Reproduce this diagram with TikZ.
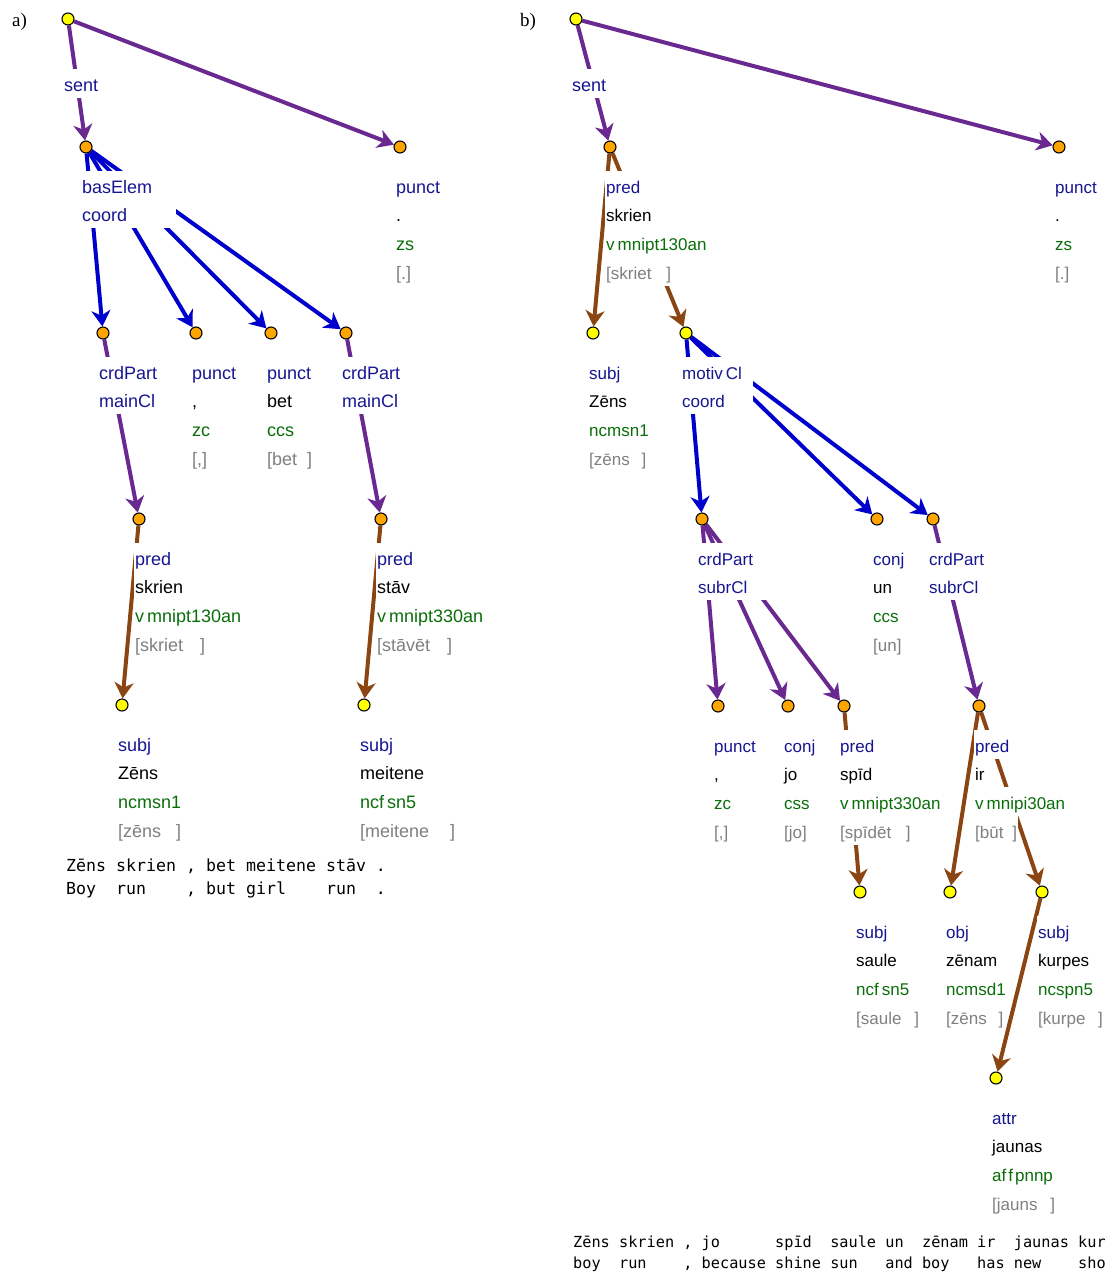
\documentclass[tikz,border=0pt]{standalone}
\usepackage{fontspec}
\setmainfont{Liberation Sans}
\newfontfamily\serifface{Liberation Serif}
\newfontfamily\glossface{DejaVu Sans Mono}
\usetikzlibrary{arrows.meta}

\pgfdeclarelayer{edges}
\pgfsetlayers{edges,main}

\definecolor{rolecol}{RGB}{22,22,145}
\definecolor{tagcol}{RGB}{10,110,10}
\definecolor{lemcol}{RGB}{128,128,128}
\definecolor{depcol}{RGB}{106,40,145}
\definecolor{crdcol}{RGB}{0,0,205}
\definecolor{predcol}{RGB}{139,69,19}
\definecolor{leafcol}{RGB}{255,255,0}
\definecolor{innercol}{RGB}{255,165,0}

\def\rowfont{\fontsize{18}{20}\selectfont}

\tikzset{
  vert/.style={circle, draw=black, line width=1.1pt, minimum size=12pt, inner sep=0pt},
  leaf/.style={vert, fill=leafcol},
  inner/.style={vert, fill=innercol},
  row/.style={anchor=base west, fill=white, font=\rowfont, inner xsep=1pt,
    inner ysep=2.5pt, text height=20pt, text depth=4pt},
  gloss/.style={anchor=base west, inner sep=0pt},
  link/.style={line width=4pt, -{Stealth[length=16pt,width=19pt,inset=5pt]}},
  dep/.style={link, draw=depcol, fill=depcol},
  crd/.style={link, draw=crdcol, fill=crdcol},
  prd/.style={link, draw=predcol, fill=predcol},
}

% word vertex: name, circle style, x, y, role, form, tag, lemma
\newcommand\wordblock[8]{%
  \node[#2] (#1) at (#3,#4) {};
  \node[row, text=rolecol] (#1-role) at ({#3-5},{#4+46}) {#5};
  \node[row, text=black] (#1-form) at ({#3-5},{#4+74.7}) {#6};
  \node[row, text=tagcol] (#1-tag) at ({#3-5},{#4+103.4}) {#7};
  \node[row, text=lemcol] (#1-lemma) at ({#3-5},{#4+132}) {#8};
}
% structural vertex: name, circle style, x, y, role, kind, box width
\newcommand\crdblock[7]{%
  \node[#2] (#1) at (#3,#4) {};
  \node[row, text=rolecol] (#1-role) at ({#3-5},{#4+46}) {\makebox[#7][l]{#5}};
  \node[row, text=rolecol] (#1-kind) at ({#3-5},{#4+74.7}) {\makebox[#7][l]{#6}};
}

\begin{document}
\begin{tikzpicture}[x=1pt,y=-1pt]
\useasboundingbox (0,0) rectangle (1104,1272);
\clip (0,0) rectangle (1104,1272);

% ---------- tree a ----------
\node[gloss, font=\serifface\fontsize{19}{20}\selectfont] (a-tag) at (12,26) {a)};
\node[leaf] (A0) at (68,19) {};
\node[row, text=rolecol] (A-sent) at (63,91) {sent};
\crdblock{A1}{inner}{86}{147}{basElem}{coord}{93pt}
\wordblock{A2}{inner}{400}{147}{punct}{.}{zs}{[.]}
\crdblock{A3}{inner}{103}{333}{crdPart}{mainCl}{60pt}
\wordblock{A4}{inner}{196}{333}{punct}{,}{zc}{[,]}
\wordblock{A5}{inner}{271}{333}{punct}{bet}{ccs}{[bet \kern5pt]}
\crdblock{A6}{inner}{346}{333}{crdPart}{mainCl}{60pt}
\wordblock{A7}{inner}{139}{519}{pred}{skrien}{v\kern3pt mnipt130an}{[skriet \kern12pt]}
\wordblock{A8}{inner}{381}{519}{pred}{stāv}{v\kern3pt mnipt330an}{[stāvēt \kern12pt]}
\wordblock{A9}{leaf}{122}{705}{subj}{Zēns}{ncmsn1}{[zēns \kern10pt]}
\wordblock{A10}{leaf}{364}{705}{subj}{meitene}{ncf\kern3pt sn5}{[meitene \kern16pt]}

\begin{scope}[font=\glossface\fontsize{16.6}{20}\selectfont]
  \node[gloss] (A-src) at (66,871) {Zēns~skrien~,~bet~meitene~stāv~.};
  \node[gloss] (A-eng) at (66,894) {Boy~~run~~~~,~but~girl~~~~run~~.};
\end{scope}

% ---------- tree b ----------
\node[gloss, font=\serifface\fontsize{19}{20}\selectfont] (b-tag) at (520,26) {b)};
\node[leaf] (B0) at (576,19) {};
\node[row, text=rolecol] (B-sent) at (571,91) {sent};
\begin{scope}
\def\rowfont{\fontsize{17}{20}\selectfont}
\wordblock{B1}{inner}{610}{147}{pred}{skrien}{v\kern3pt mnipt130an}{[skriet \kern10pt]}
\wordblock{B2}{inner}{1059}{147}{punct}{.}{zs}{[.]}
\wordblock{B3}{leaf}{593}{333}{subj}{Zēns}{ncmsn1}{[zēns \kern7pt]}
\crdblock{B4}{leaf}{686}{333}{motiv\kern3pt Cl}{coord}{70pt}
\crdblock{B5}{inner}{702}{519}{crdPart}{subrCl}{68pt}
\wordblock{B6}{inner}{877}{519}{conj}{un}{ccs}{[un]}
\crdblock{B7}{inner}{933}{519}{crdPart}{subrCl}{58pt}
\wordblock{B8}{inner}{718}{706}{punct}{,}{zc}{[,]}
\wordblock{B9}{inner}{788}{706}{conj}{jo}{css}{[jo]}
\wordblock{B10}{inner}{844}{706}{pred}{spīd}{v\kern3pt mnipt330an}{[spīdēt \kern10pt]}
\wordblock{B11}{inner}{979}{706}{pred}{ir}{v\kern3pt mnipi30an}{[būt \kern4pt]}
\wordblock{B12}{leaf}{860}{892}{subj}{saule}{ncf\kern3pt sn5}{[saule \kern8pt]}
\wordblock{B13}{leaf}{950}{892}{obj}{zēnam}{ncmsd1}{[zēns \kern7pt]}
\wordblock{B14}{leaf}{1042}{892}{subj}{kurpes}{ncspn5}{[kurpe \kern8pt]}
\wordblock{B15}{leaf}{996}{1078}{attr}{jaunas}{af\kern2pt f\kern2pt pnnp}{[jauns \kern8pt]}
\end{scope}

\begin{scope}[font=\glossface\fontsize{15.25}{20}\selectfont]
  \node[gloss] (B-src) at (573,1247) {Zēns~skrien~,~jo~~~~~~spīd~~saule~un~~zēnam~ir~~jaunas~kur};
  \node[gloss] (B-eng) at (573,1268) {boy~~run~~~~,~because~shine~sun~~~and~boy~~~has~new~~~~sho};
\end{scope}

% ---------- connectors, behind the labels ----------
\begin{pgfonlayer}{edges}
  \draw[dep] (A0) -- (A1);
  \draw[dep] (A0) -- (A2);
  \draw[crd] (A1) -- (A3);
  \draw[crd] (A1) -- (A4);
  \draw[crd] (A1) -- (A5);
  \draw[crd] (A1) -- (A6);
  \draw[dep] (A3) -- (A7);
  \draw[dep] (A6) -- (A8);
  \draw[prd] (A7) -- (A9);
  \draw[prd] (A8) -- (A10);

  \draw[dep] (B0) -- (B1);
  \draw[dep] (B0) -- (B2);
  \draw[prd] (B1) -- (B3);
  \draw[prd] (B1) -- (B4);
  \draw[crd] (B4) -- (B5);
  \draw[crd] (B4) -- (B6);
  \draw[crd] (B4) -- (B7);
  \draw[dep] (B5) -- (B8);
  \draw[dep] (B5) -- (B9);
  \draw[dep] (B5) -- (B10);
  \draw[dep] (B7) -- (B11);
  \draw[prd] (B10) -- (B12);
  \draw[prd] (B11) -- (B13);
  \draw[prd] (B11) -- (B14);
  \draw[prd] (B14) -- (B15);
\end{pgfonlayer}
\end{tikzpicture}
\end{document}
